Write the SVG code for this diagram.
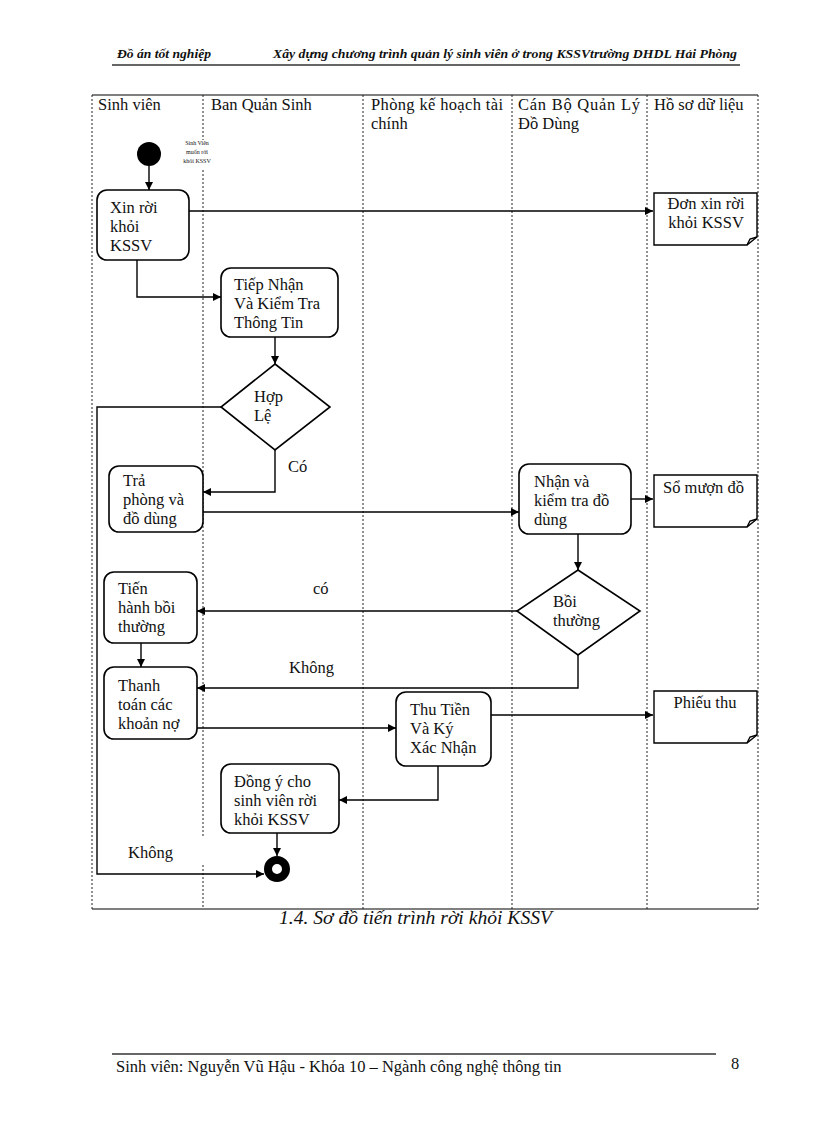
<svg xmlns="http://www.w3.org/2000/svg" width="816" height="1123" viewBox="0 0 816 1123">
<style>
text{font-family:"Liberation Serif","Times New Roman",serif;fill:#111}
.t{font-size:16.5px}
.hd{font-size:12.5px;font-weight:bold;font-style:italic}
.lane{stroke:#222;stroke-width:1;stroke-dasharray:2,2;fill:none}
.box{fill:#fff;stroke:#000;stroke-width:1.6}
.doc{fill:#fff;stroke:#000;stroke-width:1.4}
.c{stroke:#000;stroke-width:1.4;fill:none}
.ca{stroke:#000;stroke-width:1.4;fill:none;marker-end:url(#ah)}
</style>
<defs>
<marker id="ah" viewBox="0 0 10 10" refX="10" refY="5" markerWidth="8" markerHeight="8" markerUnits="userSpaceOnUse" orient="auto">
<path d="M0,0 L10,5 L0,10 Z" fill="#000"/>
</marker>
</defs>
<rect width="816" height="1123" fill="#fff"/>

<g id="header">
<text class="hd" x="117" y="58" textLength="94" lengthAdjust="spacingAndGlyphs">Đồ án tốt nghiệp</text>
<text class="hd" x="273" y="58" textLength="464" lengthAdjust="spacingAndGlyphs">Xây dựng chương trình quản lý sinh viên ở trong KSSVtrường DHDL Hải Phòng</text>
<line x1="112" y1="65" x2="740" y2="65" stroke="#333" stroke-width="1.5"/>
</g>

<g id="lanes">
<line x1="92" y1="95" x2="758" y2="95" stroke="#555" stroke-width="1.5"/>
<line x1="92" y1="909" x2="758" y2="909" stroke="#555" stroke-width="1.5"/>
<line class="lane" x1="92" y1="95" x2="92" y2="909"/>
<line class="lane" x1="758" y1="95" x2="758" y2="909"/>
<line class="lane" x1="203" y1="95" x2="203" y2="140"/>
<line class="lane" x1="203" y1="170" x2="203" y2="838"/>
<line class="lane" x1="203" y1="865" x2="203" y2="909"/>
<line class="lane" x1="363" y1="95" x2="363" y2="909"/>
<line class="lane" x1="512" y1="95" x2="512" y2="909"/>
<line class="lane" x1="647" y1="95" x2="647" y2="909"/>
<text class="t" x="98" y="110">Sinh viên</text>
<text class="t" x="211" y="110">Ban Quản Sinh</text>
<text class="t" x="371" y="110" textLength="132">Phòng kế hoạch tài</text>
<text class="t" x="371" y="129">chính</text>
<text class="t" x="518" y="110" textLength="122">Cán Bộ Quản Lý</text>
<text class="t" x="518" y="129">Đồ Dùng</text>
<text class="t" x="654" y="110">Hồ sơ dữ liệu</text>
</g>

<g id="connectors">
<line class="ca" x1="149" y1="166" x2="149" y2="190"/>
<line class="ca" x1="189" y1="211" x2="653" y2="211"/>
<polyline class="ca" points="137,260 137,297 221,297"/>
<line class="ca" x1="275" y1="337" x2="275" y2="364"/>
<polyline class="ca" points="221,407 97,407 97,874 264,874"/>
<polyline class="ca" points="275,450 275,492 203,492"/>
<line class="ca" x1="203" y1="512" x2="519" y2="512"/>
<line class="ca" x1="631" y1="499" x2="653" y2="499"/>
<line class="ca" x1="578" y1="534" x2="578" y2="570"/>
<line class="ca" x1="517" y1="611" x2="197" y2="611"/>
<line class="ca" x1="141" y1="643" x2="141" y2="667"/>
<polyline class="ca" points="578,655 578,688 197,688"/>
<line class="ca" x1="197" y1="728" x2="396" y2="728"/>
<line class="ca" x1="491" y1="715" x2="653" y2="715"/>
<polyline class="ca" points="438,766 438,800 339,800"/>
<line class="ca" x1="277" y1="833" x2="277" y2="856"/>
<text class="t" x="288" y="472">Có</text>
<text class="t" x="313" y="594">có</text>
<text class="t" x="289" y="673">Không</text>
<text class="t" x="128" y="858">Không</text>
</g>

<g id="start">
<circle cx="149" cy="154" r="12" fill="#000"/>
<text x="197" y="145" font-size="6" text-anchor="middle">Sinh Viên</text>
<text x="197" y="154" font-size="6" text-anchor="middle">muốn rời</text>
<text x="197" y="163" font-size="6" text-anchor="middle">khỏi KSSV</text>
</g>

<g id="xinroi">
<rect class="box" x="97" y="190" width="92" height="70" rx="10"/>
<text class="t" x="110" y="213">Xin rời</text>
<text class="t" x="110" y="232">khỏi</text>
<text class="t" x="110" y="251">KSSV</text>
</g>

<g id="donxin">
<path class="doc" d="M654,193 H757 V237 L747,245 H654 Z"/>
<path class="c" d="M747,245 L750,239 L757,237"/>
<text class="t" x="706" y="209" text-anchor="middle">Đơn xin rời</text>
<text class="t" x="706" y="228" text-anchor="middle">khỏi KSSV</text>
</g>

<g id="tiepnhan">
<rect class="box" x="221" y="268" width="117" height="69" rx="10"/>
<text class="t" x="234" y="290">Tiếp Nhận</text>
<text class="t" x="234" y="309">Và Kiểm Tra</text>
<text class="t" x="234" y="328">Thông Tin</text>
</g>

<g id="hople">
<polygon class="box" points="275,364 330,407 275,450 221,407"/>
<text class="t" x="254" y="402">Hợp</text>
<text class="t" x="254" y="421">Lệ</text>
</g>

<g id="traphong">
<rect class="box" x="109" y="466" width="94" height="66" rx="10"/>
<text class="t" x="123" y="486">Trả</text>
<text class="t" x="123" y="505">phòng và</text>
<text class="t" x="123" y="524">đồ dùng</text>
</g>

<g id="nhanva">
<rect class="box" x="519" y="464" width="112" height="70" rx="10"/>
<text class="t" x="534" y="487">Nhận và</text>
<text class="t" x="534" y="506">kiểm tra đồ</text>
<text class="t" x="534" y="525">dùng</text>
</g>

<g id="somuon">
<path class="doc" d="M654,475 H757 V519 L747,527 H654 Z"/>
<path class="c" d="M747,527 L750,521 L757,519"/>
<text class="t" x="663" y="493">Sổ mượn đồ</text>
</g>

<g id="boithuong">
<polygon class="box" points="578,570 640,611 578,655 517,611"/>
<text class="t" x="553" y="607">Bồi</text>
<text class="t" x="553" y="626">thường</text>
</g>

<g id="tienhanh">
<rect class="box" x="104" y="572" width="93" height="71" rx="10"/>
<text class="t" x="118" y="594">Tiến</text>
<text class="t" x="118" y="613">hành bồi</text>
<text class="t" x="118" y="632">thường</text>
</g>

<g id="thanhtoan">
<rect class="box" x="104" y="667" width="93" height="72" rx="10"/>
<text class="t" x="118" y="691">Thanh</text>
<text class="t" x="118" y="710">toán các</text>
<text class="t" x="118" y="729">khoản nợ</text>
</g>

<g id="thutien">
<rect class="box" x="396" y="692" width="95" height="74" rx="10"/>
<text class="t" x="410" y="715">Thu Tiền</text>
<text class="t" x="410" y="734">Và Ký</text>
<text class="t" x="410" y="753">Xác Nhận</text>
</g>

<g id="phieuthu">
<path class="doc" d="M654,691 H757 V735 L747,743 H654 Z"/>
<path class="c" d="M747,743 L750,737 L757,735"/>
<text class="t" x="705" y="708" text-anchor="middle">Phiếu thu</text>
</g>

<g id="dongy">
<rect class="box" x="221" y="764" width="118" height="69" rx="10"/>
<text class="t" x="234" y="787">Đồng ý cho</text>
<text class="t" x="234" y="806">sinh viên rời</text>
<text class="t" x="234" y="825">khỏi KSSV</text>
</g>

<g id="end">
<circle cx="277" cy="869" r="9" fill="#fff" stroke="#000" stroke-width="8"/>
</g>

<g id="caption">
<text x="279" y="924" font-size="18" font-style="italic" textLength="273" lengthAdjust="spacingAndGlyphs">1.4. Sơ đồ tiến trình rời khỏi KSSV</text>
</g>

<g id="footer">
<line x1="112" y1="1054" x2="716" y2="1054" stroke="#333" stroke-width="1.5"/>
<text class="t" x="116" y="1072">Sinh viên: Nguyễn Vũ Hậu - Khóa 10 – Ngành công nghệ thông tin</text>
<text class="t" x="731" y="1069">8</text>
</g>
</svg>
